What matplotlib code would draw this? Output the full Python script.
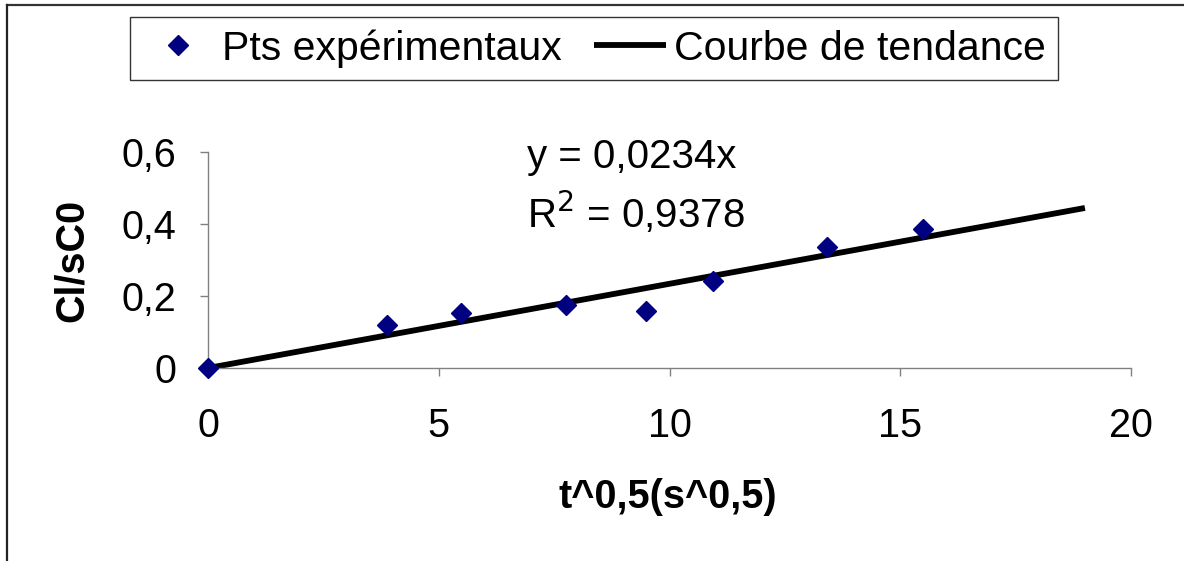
import numpy as np
import matplotlib
matplotlib.use("Agg")
import matplotlib.pyplot as plt
from matplotlib.lines import Line2D

plt.rcParams['font.family'] = ['Liberation Sans', 'DejaVu Sans']

# racine du temps (s^0,5) et rapport Cl/sC0 mesuré
t_sqrt = [0, 3.87, 5.48, 7.75, 9.49, 10.95, 13.42, 15.49]
cl_sc0 = [0, 0.119, 0.153, 0.175, 0.158, 0.242, 0.336, 0.386]

# courbe de tendance linéaire passant par l'origine
pente = 0.0234
r2 = 0.9378
x_tend = [0, 19]

x_ticks = [0, 5, 10, 15, 20]
y_ticks = [0, 0.2, 0.4, 0.6]
y_tick_labels = ["0", "0,2", "0,4", "0,6"]

FS = 29

fig = plt.figure(figsize=(11.84, 5.61), dpi=100)
ax = fig.add_axes([0.1757, 0.344, 0.7796, 0.385])

pts, = ax.plot(t_sqrt, cl_sc0, linestyle='none', marker='D', ms=10.5,
               color='#000080', clip_on=False, zorder=3,
               label='Pts expérimentaux')
tend, = ax.plot(x_tend, [pente * x for x in x_tend], color='black', lw=4.2,
                solid_capstyle='butt', clip_on=False, zorder=2,
                label='Courbe de tendance')

ax.set_xlim(0, 20)
ax.set_ylim(0, 0.6)
ax.set_xticks(x_ticks)
ax.set_xticklabels([str(v) for v in x_ticks])
ax.set_yticks(y_ticks)
ax.set_yticklabels(y_tick_labels)

for s in ['top', 'right']:
    ax.spines[s].set_visible(False)
for s in ['left', 'bottom']:
    ax.spines[s].set_color('#808080')
    ax.spines[s].set_linewidth(1.0)
ax.tick_params(axis='both', direction='out', length=6, width=1.0,
               color='#808080', labelsize=FS - 0.5)
ax.tick_params(axis='y', pad=17)
ax.tick_params(axis='x', pad=22)

ax.set_xlabel("t^0,5(s^0,5)", fontsize=FS - 0.5, fontweight='bold')
ax.xaxis.set_label_coords(0.498, -0.597)
ax.xaxis.label.set_va('center')
ax.set_ylabel("Cl/sC0", fontsize=FS - 0.5, fontweight='bold')
ax.yaxis.set_label_coords(-0.147, 0.5)
ax.yaxis.label.set_va('center')

# équation de la droite
fig.text(527 / 1184, 1 - 157 / 561, "y = 0,0234x", fontsize=FS,
         ha='left', va='center')
fig.text(527 / 1184, 1 - 213 / 561, "R$^2$ = 0,9378", fontsize=FS,
         ha='left', va='center')

leg = fig.legend(handles=[pts, tend], ncol=2, fontsize=FS + 0.5,
                 loc='center', bbox_to_anchor=(594 / 1184, 1 - 48.5 / 561),
                 frameon=True, fancybox=False, edgecolor='black',
                 handlelength=1.75, handletextpad=0.2, columnspacing=0.8,
                 borderpad=0.3, borderaxespad=0)
leg.get_frame().set_linewidth(1.0)

# cadre de la zone de graphique
fig.add_artist(Line2D([7 / 1184, 1], [1 - 4.5 / 561, 1 - 4.5 / 561],
                      transform=fig.transFigure, color='#333333', lw=1.6))
fig.add_artist(Line2D([7 / 1184, 7 / 1184], [0, 1 - 4.5 / 561],
                      transform=fig.transFigure, color='#222222', lw=1.6))

fig.savefig("out.png", dpi=100)
